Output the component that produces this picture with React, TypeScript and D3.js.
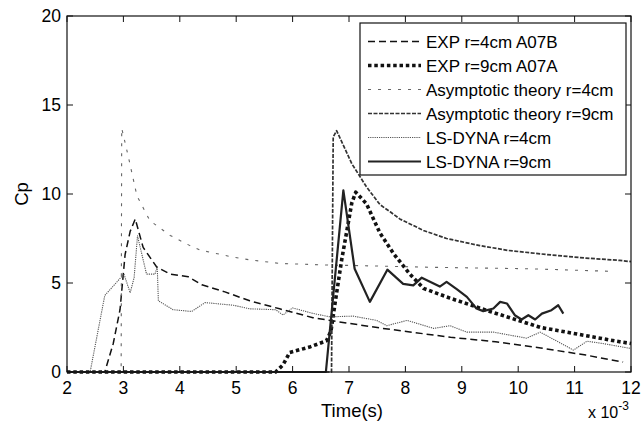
import React from "react";
import * as d3 from "d3";

const xTicks = [2, 3, 4, 5, 6, 7, 8, 9, 10, 11, 12];
const yTicks = [0, 5, 10, 15, 20];

const legendLabels = [
  "EXP r=4cm A07B",
  "EXP r=9cm A07A",
  "Asymptotic theory r=4cm",
  "Asymptotic theory r=9cm",
  "LS-DYNA r=4cm",
  "LS-DYNA r=9cm",
];

// time (x 10^-3 s), Cp
const expR4: [number, number][] = [
  [2, 0], [2.67, 0], [2.82, 1.6], [2.94, 3.5], [3.03, 6.6], [3.12, 7.9], [3.21, 8.6],
  [3.35, 7.0], [3.59, 5.9], [3.83, 5.5], [4.15, 5.35], [4.39, 4.9], [4.8, 4.5],
  [5.24, 4.0], [5.77, 3.55], [6.36, 3.05], [6.96, 2.75], [7.6, 2.45], [8.08, 2.25],
  [8.8, 1.95], [9.6, 1.7], [10.4, 1.35], [11.2, 0.95], [11.86, 0.56],
];

const expR9: [number, number][] = [
  [2, 0], [5.7, 0], [5.83, 0.4], [5.95, 1.1], [6.3, 1.4], [6.6, 1.75], [6.68, 2.3],
  [6.75, 3.8], [6.87, 6.3], [7.05, 9.5], [7.12, 10.1], [7.31, 9.45], [7.55, 7.8],
  [7.79, 6.65], [8.08, 5.5], [8.32, 4.7], [8.79, 4.15], [9.5, 3.4], [10.4, 2.5],
  [11.8, 1.7], [12, 1.6],
];

const asymR4: [number, number][] = [
  [2, 0], [2.96, 0], [2.97, 13.7], [3.09, 12.06], [3.24, 9.9], [3.47, 8.5], [3.83, 7.67],
  [4.18, 7.1], [4.36, 6.85], [4.95, 6.45], [5.24, 6.3], [5.77, 6.1], [6.5, 6.02],
  [7.55, 5.95], [8.5, 5.88], [10.2, 5.8], [11.7, 5.65],
];

const asymR9: [number, number][] = [
  [2, 0], [6.69, 0], [6.72, 13.2], [6.78, 13.56], [7.05, 11.7], [7.31, 10.4],
  [7.55, 9.4], [7.73, 9.0], [7.9, 8.6], [8.32, 7.95], [8.73, 7.5], [9.32, 7.1],
  [9.82, 6.83], [10.5, 6.6], [11.2, 6.4], [11.8, 6.27], [12, 6.2],
];

const dynaR4: [number, number][] = [
  [2, 0], [2.41, 0], [2.67, 4.3], [3.01, 5.5], [3.12, 4.45], [3.19, 5.3], [3.25, 7.65],
  [3.41, 5.5], [3.56, 5.5], [3.6, 5.9], [3.62, 4.0], [3.88, 3.5], [4.21, 3.4],
  [4.45, 3.9], [4.95, 3.75], [5.24, 3.55], [5.7, 3.5], [5.83, 3.2], [6.0, 3.6],
  [6.36, 3.29], [6.66, 3.1], [7.07, 3.14], [7.49, 2.9], [7.67, 2.6], [8.03, 2.9],
  [8.5, 2.45], [8.79, 2.6], [9.09, 2.24], [9.56, 2.24], [10.15, 1.9], [10.39, 2.24],
  [10.98, 1.23], [11.22, 1.73], [11.5, 1.6], [11.98, 1.33],
];

const dynaR9: [number, number][] = [
  [2, 0], [6.59, 0], [6.9, 10.2], [7.1, 5.8], [7.37, 3.94], [7.68, 5.75], [7.96, 4.95],
  [8.14, 4.87], [8.29, 5.3], [8.5, 4.97], [8.61, 4.8], [8.73, 5.06], [8.91, 4.65],
  [9.09, 4.22], [9.26, 3.57], [9.38, 3.42], [9.56, 3.57], [9.68, 3.94], [9.8, 3.85],
  [9.94, 3.19], [10.06, 2.95], [10.18, 3.19], [10.3, 2.95], [10.42, 3.28],
  [10.59, 3.47], [10.71, 3.75], [10.8, 3.28],
];

const seriesData = [expR4, expR9, asymR4, asymR9, dynaR4, dynaR9];

const styles = [
  { stroke: "#111", width: 1.5, dash: "7,4" },
  { stroke: "#111", width: 3.6, dash: "3.5,2.8" },
  { stroke: "#666", width: 1.1, dash: "3,7" },
  { stroke: "#333", width: 1.7, dash: "4,1.5" },
  { stroke: "#555", width: 1.1, dash: "1.2,1" },
  { stroke: "#222", width: 2.2, dash: "none" },
];

const W = 641;
const H = 432;
const L = 67, R = 631, T = 16, B = 372;
const FONT = "'Liberation Sans', Arial, sans-serif";

export default function App() {
  const x = d3.scaleLinear().domain([2, 12]).range([L, R]);
  const y = d3.scaleLinear().domain([0, 20]).range([B, T]);
  const line = d3.line<[number, number]>().x((d) => x(d[0])).y((d) => y(d[1]));

  const legX = 360, legY = 23, legW = 266, legH = 152;

  return (
    <svg
      width={W}
      height={H}
      style={{ position: "absolute", left: 0, top: 0, background: "#fff" }}
      fontFamily={FONT}
    >
      <rect x={0} y={0} width={W} height={H} fill="#fff" />
      {seriesData.map((s, i) => (
        <path
          key={i}
          d={line(s) || ""}
          fill="none"
          stroke={styles[i].stroke}
          strokeWidth={styles[i].width}
          strokeDasharray={styles[i].dash}
          strokeLinejoin="round"
        />
      ))}
      <rect x={L} y={T} width={R - L} height={B - T} fill="none" stroke="#111" strokeWidth={1.2} />
      {xTicks.map((t) => (
        <g key={"x" + t}>
          <line x1={x(t)} x2={x(t)} y1={B} y2={B - 6} stroke="#111" />
          <line x1={x(t)} x2={x(t)} y1={T} y2={T + 6} stroke="#111" />
          <text x={x(t)} y={394} fontSize={17.5} textAnchor="middle" fill="#000">
            {t}
          </text>
        </g>
      ))}
      {yTicks.map((t) => (
        <g key={"y" + t}>
          <line x1={L} x2={L + 6} y1={y(t)} y2={y(t)} stroke="#111" />
          <line x1={R} x2={R - 6} y1={y(t)} y2={y(t)} stroke="#111" />
          <text x={L - 6} y={y(t) + 6} fontSize={17.5} textAnchor="end" fill="#000">
            {t}
          </text>
        </g>
      ))}
      <text x={352} y={417} fontSize={18.5} textAnchor="middle" fill="#000">
        Time(s)
      </text>
      <text
        transform={`translate(28, ${y(10)}) rotate(-90)`}
        fontSize={18.5}
        textAnchor="middle"
        fill="#000"
      >
        Cp
      </text>
      <text x={588} y={418} fontSize={16} fill="#000">
        x 10
        <tspan dy={-8} fontSize={12}>-3</tspan>
      </text>
      <rect x={legX} y={legY} width={legW} height={legH} fill="#fff" stroke="#111" strokeWidth={1.2} />
      {legendLabels.map((lab, i) => {
        const cy = 41.5 + i * 24;
        return (
          <g key={lab}>
            <line
              x1={368}
              x2={421}
              y1={cy}
              y2={cy}
              stroke={styles[i].stroke}
              strokeWidth={styles[i].width}
              strokeDasharray={styles[i].dash}
            />
            <text x={426} y={cy + 6} fontSize={17} fill="#000">
              {lab}
            </text>
          </g>
        );
      })}
    </svg>
  );
}
